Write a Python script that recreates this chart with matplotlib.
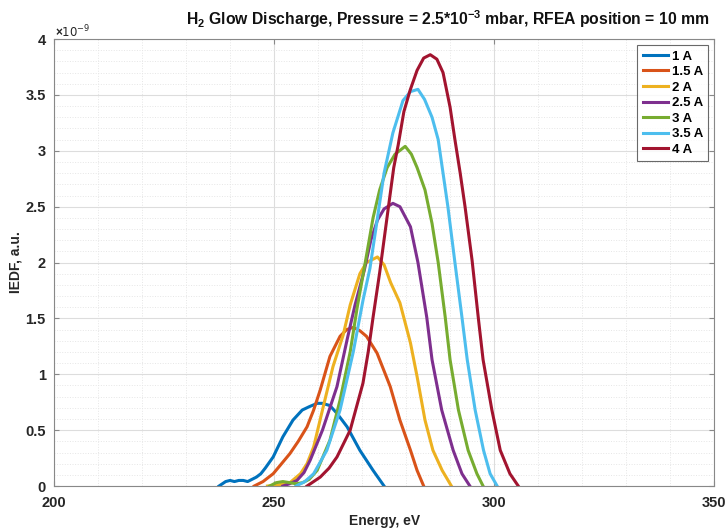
import matplotlib.pyplot as plt
from matplotlib.ticker import MultipleLocator

plt.rcParams['font.family'] = ['Liberation Sans', 'DejaVu Sans']
plt.rcParams['mathtext.fontset'] = 'custom'
plt.rcParams['mathtext.rm'] = 'Liberation Sans:bold'
plt.rcParams['mathtext.default'] = 'rm'

# IEDF curves (values in units of 1e-9), energy in eV
labels = ["1 A", "1.5 A", "2 A", "2.5 A", "3 A", "3.5 A", "4 A"]
colors = ["#0072BD", "#D95319", "#EDB120", "#7E2F8E", "#77AC30", "#4DBEEE", "#A2142F"]

e_1a = [237.5, 239, 240, 241, 242, 243, 244, 245, 246, 247, 248, 249.8, 252, 254.3, 256.4, 258,
        259.8, 261, 262.7, 264.3, 266.6, 269.5, 272.5, 275]
v_1a = [0, 0.04, 0.05, 0.04, 0.05, 0.05, 0.04, 0.06, 0.08, 0.11, 0.16, 0.26, 0.44, 0.59, 0.68, 0.71,
        0.74, 0.74, 0.72, 0.65, 0.53, 0.32, 0.14, 0]

e_15a = [245.5, 247.5, 249.8, 251.5, 253.6, 255.5, 257.5, 259, 260.5, 262.7, 265, 266.5, 268, 269.5,
         271, 273.4, 276.4, 278.6, 281, 282.5, 284]
v_15a = [0, 0.04, 0.11, 0.19, 0.29, 0.40, 0.53, 0.68, 0.86, 1.16, 1.34, 1.40, 1.42, 1.39,
         1.34, 1.19, 0.89, 0.59, 0.32, 0.14, 0]

e_2a = [248.5, 251, 253.6, 256, 257.5, 259, 261, 263.4, 265.7, 267.3, 269.5, 271, 273.5, 275, 276.5,
        278.6, 281, 282.5, 284.3, 286.1, 288.2, 290, 290.3]
v_2a = [0, 0.01, 0.03, 0.11, 0.20, 0.35, 0.68, 1.07, 1.35, 1.62, 1.90, 2.00, 2.05, 1.98, 1.82,
        1.64, 1.28, 0.98, 0.59, 0.32, 0.14, 0.02, 0]

e_25a = [252, 253.5, 255.2, 256.8, 258.2, 261, 264.3, 266.6, 268.4, 270.5, 272, 273.5, 275, 277,
         278.6, 281, 282.7, 284.7, 285.9, 288.1, 290.7, 292.7, 294.5]
v_25a = [0, 0.02, 0.05, 0.12, 0.23, 0.50, 0.89, 1.31, 1.62, 1.93, 2.20, 2.38, 2.48, 2.53,
         2.50, 2.32, 2.00, 1.51, 1.13, 0.68, 0.32, 0.11, 0]

e_3a = [249, 250.5, 252, 253.6, 255, 256.5, 258, 259.8, 262.7, 265, 267.3, 268.9, 270.5, 272.5, 274,
        275.7, 277.5, 279.8, 281.2, 282.5, 284.3, 285.9, 287.3, 288.9, 290, 291.9, 294.1, 296.1, 297.5]
v_3a = [0, 0.03, 0.04, 0.03, 0.02, 0.03, 0.06, 0.14, 0.41, 0.77, 1.20, 1.60, 1.95, 2.40, 2.65,
        2.85, 2.97, 3.04, 2.97, 2.85, 2.65, 2.35, 2.00, 1.51, 1.13, 0.68, 0.32, 0.11, 0]

e_35a = [255, 257, 259, 262, 265, 268, 270.2, 271.8, 273.5, 275, 277, 279.3, 281, 282.7, 284.2,
         285.9, 287.3, 288.4, 289.5, 291.1, 292.7, 293.9, 295.7, 297.6, 299.1, 300.7]
v_35a = [0, 0.04, 0.11, 0.32, 0.68, 1.20, 1.66, 1.95, 2.40, 2.80, 3.16, 3.45, 3.53, 3.55, 3.46,
         3.30, 3.10, 2.80, 2.50, 2.00, 1.51, 1.13, 0.68, 0.32, 0.11, 0]

e_4a = [257.5, 260.5, 262.5, 264.3, 267.3, 270.2, 271.4, 272.5, 274, 276, 277.2, 278.2, 279.5, 280.9,
        282.5, 284, 285.5, 287, 288.4, 290, 291.1, 292.3, 293.4, 295, 296.4, 297.5, 299.5, 301.4,
        303.6, 305.5]
v_4a = [0, 0.08, 0.16, 0.26, 0.50, 0.92, 1.20, 1.51, 1.91, 2.50, 2.85, 3.05, 3.35, 3.54,
        3.72, 3.83, 3.86, 3.82, 3.70, 3.39, 3.10, 2.80, 2.50, 2.02, 1.51, 1.13, 0.68, 0.32,
        0.11, 0]

energies = [e_1a, e_15a, e_2a, e_25a, e_3a, e_35a, e_4a]
values = [v_1a, v_15a, v_2a, v_25a, v_3a, v_35a, v_4a]

fig = plt.figure(figsize=(7.25, 5.28), dpi=100)
ax = fig.add_axes([0.0745, 0.0795, 0.9105, 0.8465])

for e, v, lab, c in zip(energies, values, labels, colors):
    ax.plot(e, v, color=c, lw=2.2, label=lab, solid_joinstyle='round')

ax.set_xlim(200, 350)
ax.set_ylim(0, 4)
ax.xaxis.set_major_locator(MultipleLocator(50))
ax.xaxis.set_minor_locator(MultipleLocator(10))
ax.yaxis.set_minor_locator(MultipleLocator(0.1))
ax.set_yticks([0, 0.5, 1, 1.5, 2, 2.5, 3, 3.5, 4])
ax.set_yticklabels(["0", "0.5", "1", "1.5", "2", "2.5", "3", "3.5", "4"])
ax.grid(which='major', color='#dddddd', lw=0.8)
ax.grid(which='minor', color='#e6e6e6', lw=0.7, ls=':')
ax.tick_params(which='both', direction='in', colors='#888888', labelcolor='#262626',
               labelsize=10.5, top=True, right=True)
ax.tick_params(axis='x', pad=7)
ax.tick_params(axis='y', pad=6)
ax.tick_params(which='minor', length=0)
for lbl in ax.get_xticklabels() + ax.get_yticklabels():
    lbl.set_fontweight('bold')
for s in ax.spines.values():
    s.set_color('#888888')
    s.set_linewidth(0.8)

ax.set_xlabel("Energy, eV", fontsize=10, fontweight='bold', color='#262626', labelpad=3)
ax.set_ylabel("IEDF, a.u.", fontsize=10, fontweight='bold', color='#262626', labelpad=2)

fig.text(0.076, 0.93, r"$\times$10$^{\mathregular{-9}}$", fontsize=8.5, color='#262626',
         family=['DejaVu Sans'], ha='left', va='baseline')
fig.text(0.617, 0.964, r"H$_2$ Glow Discharge, Pressure = 2.5*10$^{-3}$ mbar, RFEA position = 10 mm",
         fontsize=11.3, fontweight='bold', ha='center', va='center', color='#111111')

leg = ax.legend(loc='upper right', prop={'weight': 'bold', 'size': 9.5}, frameon=True,
                fancybox=False, handlelength=1.9, handletextpad=0.3, borderpad=0.4,
                labelspacing=0.25, borderaxespad=0.45)
leg.get_frame().set_edgecolor('#444444')
leg.get_frame().set_linewidth(0.8)

fig.savefig("out.png", dpi=100)
